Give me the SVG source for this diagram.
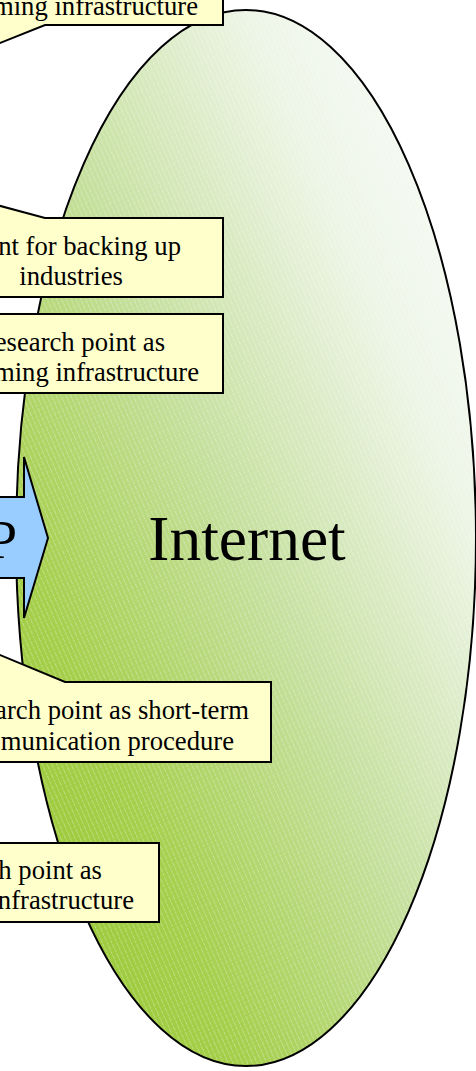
<svg xmlns="http://www.w3.org/2000/svg" width="476" height="1071" viewBox="0 0 476 1071">
  <defs>
    <linearGradient id="cloudFill" x1="0" y1="1" x2="1" y2="0">
      <stop offset="0" stop-color="#92c62a"/>
      <stop offset="0.25" stop-color="#a6cf4c"/>
      <stop offset="0.5" stop-color="#c6e09f"/>
      <stop offset="0.75" stop-color="#edf5e6"/>
      <stop offset="1" stop-color="#ffffff"/>
    </linearGradient>
    <pattern id="hatch" patternUnits="userSpaceOnUse" width="4.4" height="10" patternTransform="rotate(-24)">
      <line x1="0.5" y1="0" x2="0.5" y2="10" stroke="#ffffff" stroke-width="0.8" stroke-opacity="0.38" stroke-dasharray="3 1"/>
    </pattern>
    <style>
      .box { fill: #ffffcc; stroke: #000000; stroke-width: 2; stroke-linejoin: miter; }
      .lbl { font-family: "Liberation Serif", "Times New Roman", serif; font-size: 26.67px; fill: #000000; text-anchor: end; }
      .big { font-family: "Liberation Serif", "Times New Roman", serif; fill: #000000; }
    </style>
  </defs>

  <rect width="476" height="1071" fill="#ffffff"/>

  <!-- Internet cloud -->
  <g id="internet">
    <ellipse cx="246" cy="538" rx="230" ry="528" fill="url(#cloudFill)"/>
    <ellipse cx="246" cy="538" rx="230" ry="528" fill="url(#hatch)"/>
    <ellipse cx="246" cy="538" rx="230" ry="528" fill="none" stroke="#000000" stroke-width="2"/>
    <text class="big" x="247" y="560" font-size="63.5" text-anchor="middle">Internet</text>
  </g>

  <!-- Protocol arrow -->
  <g id="arrow">
    <path d="M -20 497 H 24 V 457 L 48 538 L 24 618 V 578 H -20 Z" fill="#99ccff" stroke="#000000" stroke-width="2" stroke-linejoin="miter"/>
    <text class="big" x="17" y="558" font-size="54" text-anchor="end">P</text>
  </g>

  <!-- Callouts -->
  <g id="callout-1">
    <path class="box" d="M -82 -52 H 223 V 25 H 45 L -70 71 L -15 25 H -82 Z"/>
    <text class="lbl" x="198" y="15">ming infrastructure</text>
  </g>

  <g id="callout-2">
    <path class="box" d="M -82 218 H -15 L -70 187 L 45 218 H 223 V 297 H -82 Z"/>
    <text class="lbl" x="181" y="255">nt for backing up</text>
    <text class="lbl" x="123" y="285">industries</text>
  </g>

  <g id="callout-3">
    <rect class="box" x="-82" y="314" width="305" height="79"/>
    <text class="lbl" x="165" y="351">esearch point as</text>
    <text class="lbl" x="199" y="381">ming infrastructure</text>
  </g>

  <g id="callout-4">
    <path class="box" d="M -100 682 H -10 L -60 630 L 65 682 H 271 V 762 H -100 Z"/>
    <text class="lbl" x="249" y="719">arch point as short-term</text>
    <text class="lbl" x="234" y="750">munication procedure</text>
  </g>

  <g id="callout-5">
    <rect class="box" x="-150" y="843" width="309" height="79"/>
    <text class="lbl" x="102" y="879">h point as</text>
    <text class="lbl" x="134" y="909">nfrastructure</text>
  </g>
</svg>
